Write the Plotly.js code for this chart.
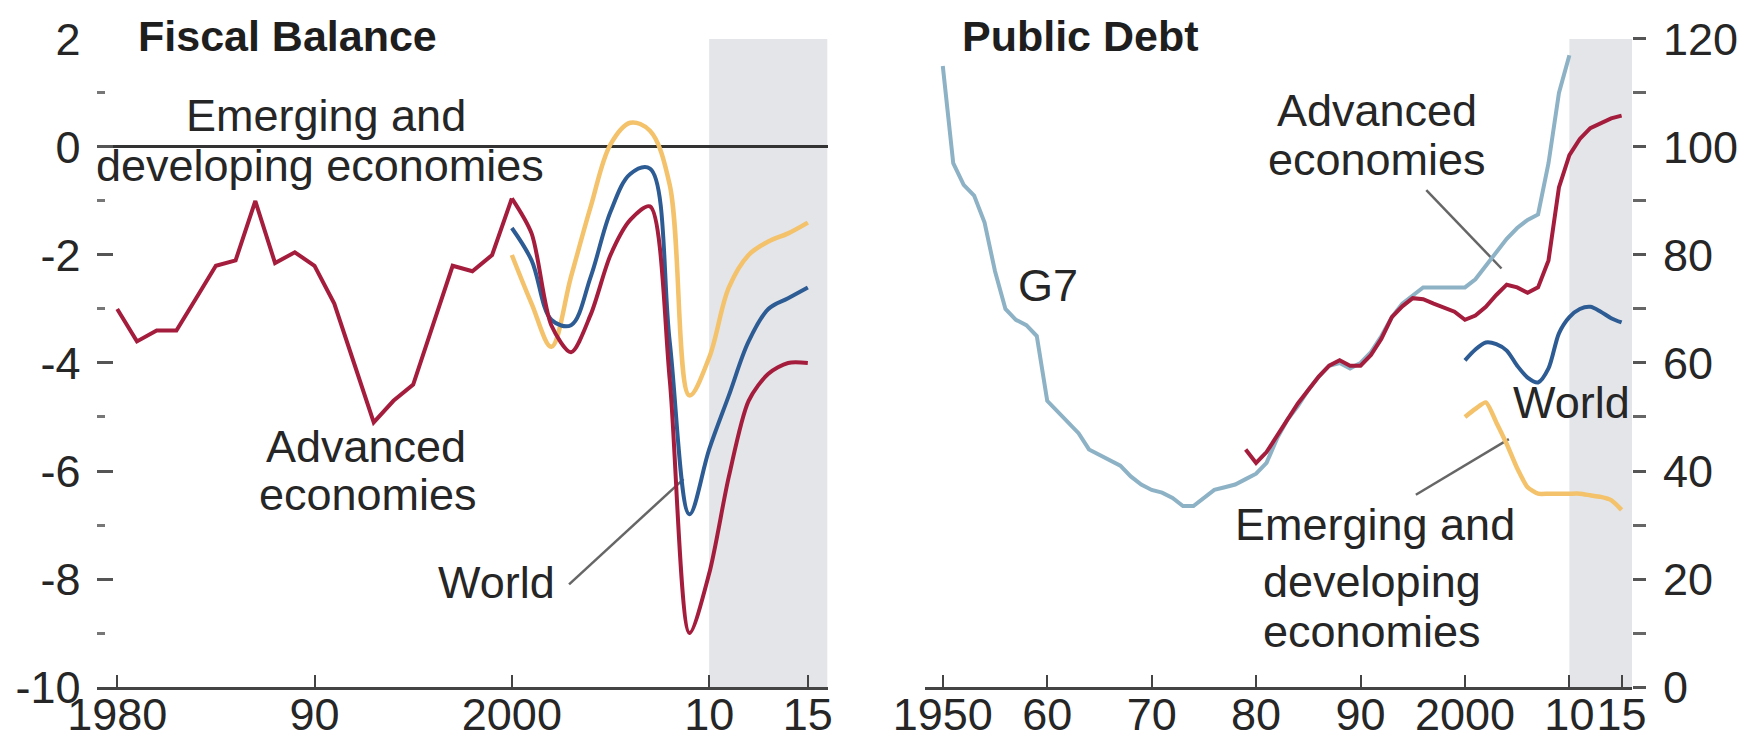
<!DOCTYPE html>
<html>
<head>
<meta charset="utf-8">
<script src="https://cdn.plot.ly/plotly-3.0.1.min.js"></script>
<style>html,body{margin:0;padding:0;background:#fff;}#chart{width:1747px;height:744px;}</style>
</head>
<body>
<div id="chart"></div>
<script>
// ---------------- Data: Fiscal Balance (percent of GDP) ----------------
const fbYears = [1980,1981,1982,1983,1984,1985,1986,1987,1988,1989,1990,1991,1992,1993,1994,1995,1996,1997,1998,1999,2000,2001,2002,2003,2004,2005,2006,2007,2008,2009,2010,2011,2012,2013,2014,2015];
const fbAdvanced = [-3.0,-3.6,-3.4,-3.4,-2.8,-2.2,-2.1,-1.0,-2.15,-1.95,-2.2,-2.9,-4.0,-5.1,-4.7,-4.4,-3.3,-2.2,-2.3,-2.0,-0.95,-1.6,-3.3,-3.8,-3.1,-2.0,-1.35,-1.1,-4.3,-9.0,-7.9,-6.1,-4.7,-4.2,-4.0,-4.0];
const fbYears2 = [2000,2001,2002,2003,2004,2005,2006,2007,2008,2009,2010,2011,2012,2013,2014,2015];
const fbWorld = [-1.5,-2.1,-3.2,-3.3,-2.4,-1.2,-0.5,-0.4,-3.6,-6.8,-5.6,-4.6,-3.6,-3.0,-2.8,-2.6];
const fbEmerging = [-2.0,-2.9,-3.7,-2.4,-1.1,0.05,0.45,0.3,-0.7,-4.6,-3.9,-2.6,-2.0,-1.75,-1.6,-1.4];

// ---------------- Data: Public Debt (percent of GDP) ----------------
const g7Years = [];
for (let y = 1950; y <= 2010; y++) g7Years.push(y);
const pdG7 = [115,97,93,91,86,77,70,68,67,65,53,51,49,47,44,43,42,41,39,37.5,36.5,36,35,33.5,33.5,35,36.5,37,37.5,38.5,39.5,41.5,46,49.5,52,55,57.5,59.5,60,59,60,62,65,68.5,71,72.5,74,74,74,74,74,75.5,78,80.5,83,85,86.5,87.5,97,110,117];
const advYears = [];
for (let y = 1979; y <= 2015; y++) advYears.push(y);
const pdAdvanced = [44,41.5,43.5,46.5,49.5,52.5,55,57.5,59.5,60.5,59.5,59.5,61.5,64.5,68.5,70.5,72,71.8,71,70.3,69.5,68,68.8,70.4,72.6,74.5,74,73,74,79,92.5,98.5,101.5,103.5,104.5,105.3,105.8];
const pdYears2 = [2000,2001,2002,2003,2004,2005,2006,2007,2008,2009,2010,2011,2012,2013,2014,2015];
const pdWorld = [60.5,62.5,63.8,63.5,62.3,59.5,57.3,56.4,59,65.5,68.5,70,70.4,69.5,68.3,67.5];
const pdEmerging = [50,51.5,52.7,49,45,40.5,37,35.8,35.8,35.8,35.8,35.8,35.5,35.2,34.6,32.8];

// Tick labels
const fbTickVals = [1980,1990,2000,2010,2015];
const fbTickText = ['1980','90','2000','10','15'];
const fbYTickVals = [-10,-8,-6,-4,-2,0,2];
const fbYTickText = ['-10','-8','-6','-4','-2','0','2'];
const pdTickVals = [1950,1960,1970,1980,1990,2000,2010,2015];
const pdTickText = ['1950','60','70','80','90','2000','10','15'];
const pdYTickVals = [0,20,40,60,80,100,120];
const projectionStart = 2010;

// ---------------- Styling ----------------
const FONT = "'Liberation Sans',Arial,Helvetica,sans-serif";
const FS = 45;
const TXT = '#262626';
const RED = '#A51D3D', BLUE = '#2D5B93', ORANGE = '#F3C26B', G7C = '#8DB2C5';
const LW = 4;

const splitIdx = fbYears.indexOf(2000);
const traces = [
  {x: fbYears2, y: fbEmerging, xaxis:'x', yaxis:'y', mode:'lines', line:{color:ORANGE, width:LW+0.5, shape:'spline', smoothing:1}},
  {x: fbYears2, y: fbWorld, xaxis:'x', yaxis:'y', mode:'lines', line:{color:BLUE, width:LW, shape:'spline', smoothing:1}},
  {x: fbYears.slice(0, splitIdx+1), y: fbAdvanced.slice(0, splitIdx+1), xaxis:'x', yaxis:'y', mode:'lines', line:{color:RED, width:LW}},
  {x: fbYears.slice(splitIdx), y: fbAdvanced.slice(splitIdx), xaxis:'x', yaxis:'y', mode:'lines', line:{color:RED, width:LW, shape:'spline', smoothing:0.8}},
  {x: g7Years, y: pdG7, xaxis:'x2', yaxis:'y2', mode:'lines', line:{color:G7C, width:LW}},
  {x: advYears, y: pdAdvanced, xaxis:'x2', yaxis:'y2', mode:'lines', line:{color:RED, width:LW}},
  {x: pdYears2, y: pdWorld, xaxis:'x2', yaxis:'y2', mode:'lines', line:{color:BLUE, width:LW, shape:'spline', smoothing:0.8}},
  {x: pdYears2, y: pdEmerging, xaxis:'x2', yaxis:'y2', mode:'lines', line:{color:ORANGE, width:LW+0.5, shape:'spline', smoothing:0.6}}
];

const tickFont = {family: FONT, size: FS, color: TXT};
const yDom = [0.0766, 0.9476];
const xAxisCommon = {showgrid:false, zeroline:false, showline:true, linecolor:'#444', linewidth:3,
  ticks:'inside', ticklen:12, tickwidth:2, tickcolor:'#444', tickfont:tickFont, tickangle:0,
  ticklabelstandoff:-14, fixedrange:true};

const layout = {
  width:1747, height:744, showlegend:false,
  margin:{l:0, r:0, t:0, b:0},
  paper_bgcolor:'#fff', plot_bgcolor:'rgba(0,0,0,0)',
  font:{family:FONT, size:FS, color:TXT},
  xaxis: Object.assign({}, xAxisCommon, {domain:[0.0558,0.4737], range:[1979,2016], anchor:'y', tickvals:fbTickVals, ticktext:fbTickText}),
  yaxis: {domain:yDom, range:[-10,2], anchor:'x', tickvals:fbYTickVals, ticktext:fbYTickText, ticks:'inside', ticklen:16, tickwidth:3, tickcolor:'#555',
    minor:{tickvals:[-9,-7,-5,-3,-1,1], ticks:'inside', ticklen:8, tickwidth:3, tickcolor:'#777'},
    showgrid:false, showline:false, zeroline:true, zerolinecolor:'#333', zerolinewidth:3,
    tickfont:tickFont, ticklabelstandoff:16, fixedrange:true},
  yaxis4: {overlaying:'y', side:'right', anchor:'x', range:[-10,2], tickvals:[-9,-8,-7,-6,-5,-4,-3,-2,-1,1,2], ticks:'inside', ticklen:9, tickwidth:3, tickcolor:'#666',
    showticklabels:false, showgrid:false, zeroline:false, showline:false, fixedrange:true},
  xaxis2: Object.assign({}, xAxisCommon, {domain:[0.5295,0.9342], range:[1948.3,2016], anchor:'y2', tickvals:pdTickVals, ticktext:pdTickText}),
  yaxis2: {domain:yDom, range:[0,120], anchor:'x2', side:'right', tickvals:pdYTickVals, ticks:'outside', ticklen:13, tickwidth:3, tickcolor:'#555',
    minor:{tickvals:[10,30,50,70,90,110], ticks:'outside', ticklen:13, tickwidth:3, tickcolor:'#666'},
    showgrid:false, showline:false, zeroline:false, tickfont:tickFont, ticklabelstandoff:8, fixedrange:true},
  yaxis3: {overlaying:'y2', side:'left', anchor:'x2', range:[0,120], tickvals:[10,20,30,40,50,60,70,80,90,100,110,120], ticks:'outside', ticklen:9, tickwidth:3, tickcolor:'#666',
    showticklabels:false, showgrid:false, zeroline:false, showline:false, fixedrange:true},
  shapes: [
    {type:'rect', xref:'x', yref:'y', x0:projectionStart, x1:2016, y0:-10, y1:2, fillcolor:'#E3E5E9', line:{width:0}, layer:'below'},
    {type:'rect', xref:'x2', yref:'y2', x0:projectionStart, x1:2016, y0:0, y1:120, fillcolor:'#E3E5E9', line:{width:0}, layer:'below'},
    {type:'line', xref:'x', yref:'y', x0:2002.9, y0:-8.1, x1:2008.7, y1:-6.15, line:{color:'#666', width:2.5}, layer:'below'},
    {type:'line', xref:'x2', yref:'y2', x0:1996.3, y0:92, x1:2003.5, y1:77.5, line:{color:'#666', width:2.5}, layer:'below'},
    {type:'line', xref:'x2', yref:'y2', x0:1995.3, y0:35.6, x1:2004.2, y1:45.9, line:{color:'#666', width:2.5}, layer:'below'}
  ],
  annotations: [
    {xref:'paper', yref:'paper', x:0.0778, y:0.9516, xanchor:'left', yanchor:'middle', text:'<b>Fiscal Balance</b>', showarrow:false, font:{family:FONT, size:43, color:'#1e1e1e'}},
    {xref:'paper', yref:'paper', x:0.5495, y:0.9516, xanchor:'left', yanchor:'middle', text:'<b>Public Debt</b>', showarrow:false, font:{family:FONT, size:43, color:'#1e1e1e'}},
    {xref:'x', yref:'y', x:1990.6, y:0.58, text:'Emerging and', showarrow:false},
    {xref:'x', yref:'y', x:1990.3, y:-0.34, text:'developing economies', showarrow:false},
    {xref:'x', yref:'y', x:1992.6, y:-5.55, text:'Advanced', showarrow:false},
    {xref:'x', yref:'y', x:1992.7, y:-6.44, text:'economies', showarrow:false},
    {xref:'x', yref:'y', x:1999.2, y:-8.06, text:'World', showarrow:false},
    {xref:'x2', yref:'y2', x:1960.1, y:74.4, text:'G7', showarrow:false},
    {xref:'x2', yref:'y2', x:1991.6, y:106.8, text:'Advanced', showarrow:false},
    {xref:'x2', yref:'y2', x:1991.6, y:97.7, text:'economies', showarrow:false},
    {xref:'x2', yref:'y2', x:2010.2, y:52.7, text:'World', showarrow:false},
    {xref:'x2', yref:'y2', x:1991.4, y:30.1, text:'Emerging and', showarrow:false},
    {xref:'x2', yref:'y2', x:1991.1, y:19.5, text:'developing', showarrow:false},
    {xref:'x2', yref:'y2', x:1991.1, y:10.3, text:'economies', showarrow:false}
  ]
};

Plotly.newPlot('chart', traces, layout, {staticPlot:true, displayModeBar:false});
</script>
</body>
</html>
